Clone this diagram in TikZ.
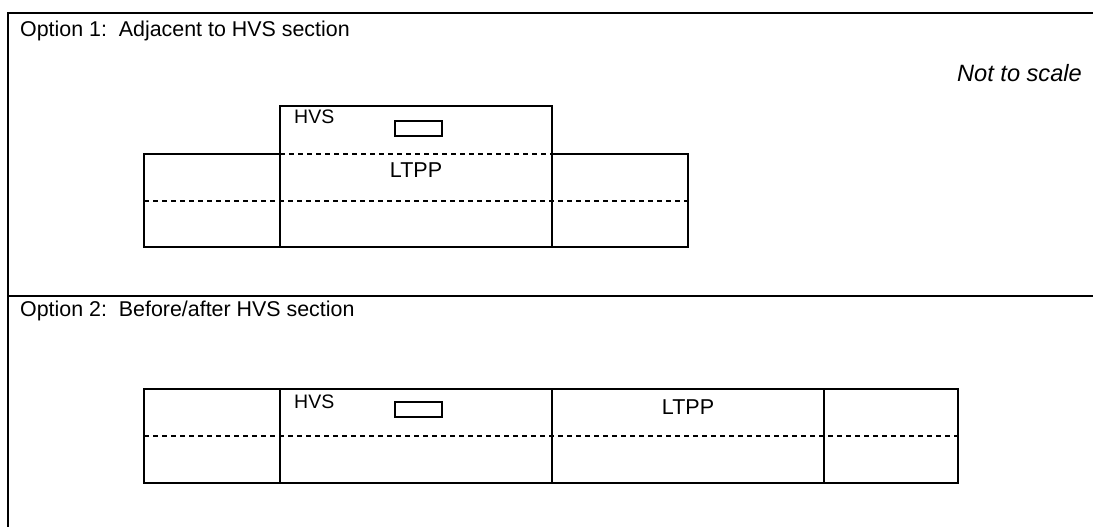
\documentclass[tikz,border=0pt]{standalone}
\usepackage{fontspec}
\setmainfont{Liberation Sans}
\begin{document}
\begin{tikzpicture}[x=1pt,y=-1pt,
  frame/.style={line width=2.4pt},
  box/.style={line width=2.4pt},
  divline/.style={line width=2pt, dash pattern=on 5pt off 4pt},
  tag/.style={draw, line width=1.5pt},
  title/.style={inner sep=0pt, anchor=base west, font=\fontsize{21.4}{26}\selectfont},
  lbl/.style={inner sep=0pt, font=\fontsize{19.5}{22}\selectfont},
  lblb/.style={inner sep=0pt, font=\fontsize{21.5}{24}\selectfont},
  note/.style={inner sep=0pt, anchor=base east, font=\fontsize{23.6}{26}\selectfont\itshape}]
\useasboundingbox (0,0) rectangle (1093,527);
% outer frame
\draw[frame] (1094,13) -- (8,13) -- (8,528);
\draw[frame] (8,296) -- (1094,296);
% titles
\node[title] (t1) at (20,37) {Option 1:\ \ Adjacent to HVS section};
\node[title] (t2) at (20,316) {Option 2:\ \ Before/after HVS section};
\node[note] (ns) at (1082,81.5) {Not to scale};
% Option 1 boxes
\draw[box] (280,106) rectangle (552,247);
\draw[box] (144,154) rectangle (280,247);
\draw[box] (552,154) rectangle (688,247);
\draw[divline] (280,154) -- (552,154);
\draw[divline] (144,201) -- (688,201);
\node[lbl, anchor=base west] (h1) at (294,124) {HVS};
\node[tag, minimum width=47pt, minimum height=15pt, inner sep=0pt] (r1) at (418.5,128.5) {};
\node[lblb, anchor=base] (l1) at (416,177.5) {LTPP};
% Option 2 boxes
\draw[box] (144,389) rectangle (958,483);
\draw[box] (280,389) -- (280,483);
\draw[box] (552,389) -- (552,483);
\draw[box] (824,389) -- (824,483);
\draw[divline] (144,435.5) -- (958,435.5);
\node[lbl, anchor=base west] (h2) at (294,408) {HVS};
\node[tag, minimum width=47pt, minimum height=15pt, inner sep=0pt] (r2) at (418.5,409.5) {};
\node[lblb, anchor=base] (l2) at (688,414.5) {LTPP};
\end{tikzpicture}
\end{document}
